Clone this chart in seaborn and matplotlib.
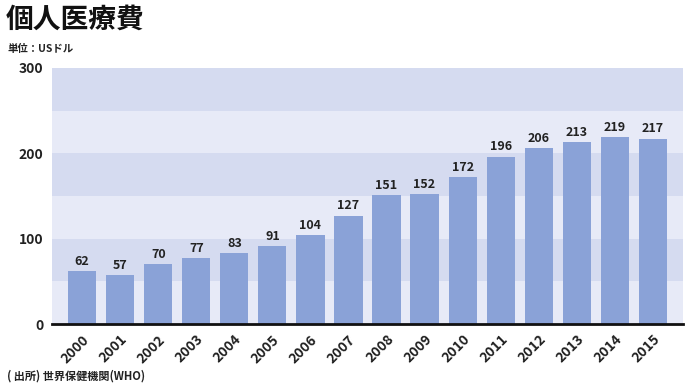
import matplotlib
matplotlib.use("Agg")
import matplotlib.pyplot as plt
import seaborn as sns
import pandas as pd

years = ["2000", "2001", "2002", "2003", "2004", "2005", "2006", "2007",
         "2008", "2009", "2010", "2011", "2012", "2013", "2014", "2015"]
values = [62, 57, 70, 77, 83, 91, 104, 127, 151, 152, 172, 196, 206, 213, 219, 217]
yticks = [0, 100, 200, 300]

sns.set_theme(style="white")
plt.rcParams['font.family'] = ['Noto Sans CJK JP', 'DejaVu Sans']

df = pd.DataFrame({"year": years, "value": values})

fig = plt.figure(figsize=(7, 3.9), dpi=100)
ax = fig.add_axes([0.074, 0.169, 0.902, 0.657])

# background bands
for i, lo in enumerate(range(0, 300, 50)):
    color = "#e7eaf7" if i % 2 == 0 else "#d5dbf0"
    ax.axhspan(lo, lo + 50, color=color, zorder=0, lw=0)

sns.barplot(data=df, x="year", y="value", color="#8aa2d7", saturation=1,
            width=0.74, ax=ax, zorder=2, edgecolor="none", linewidth=0)

for i, v in enumerate(values):
    ax.text(i, v + 4, str(v), ha="center", va="bottom", fontsize=9,
            fontweight="bold", color="#222222", zorder=3)

ax.set_ylim(0, 300)
ax.set_xlim(-0.8, len(years) - 0.2)
ax.set_yticks(yticks)
ax.set_yticklabels([str(t) for t in yticks], fontsize=10, fontweight="bold", color="#222222")
ax.set_xticks(range(len(years)))
ax.set_xticklabels(years, rotation=45, ha="right", rotation_mode="anchor",
                   fontsize=10, fontweight="bold", color="#222222")
ax.tick_params(axis="both", length=0, pad=6)
ax.set_xlabel("")
ax.set_ylabel("")
for s in ["top", "right", "left"]:
    ax.spines[s].set_visible(False)
ax.spines["bottom"].set_color("#111111")
ax.spines["bottom"].set_linewidth(2)
ax.spines["bottom"].set_zorder(4)

fig.text(0.008, 0.985, "個人医療費", fontsize=20, fontweight="bold", va="top", ha="left", color="#111111")
fig.text(0.01, 0.875, "単位：USドル", fontsize=7.5, fontweight="bold", va="center", ha="left", color="#222222")
fig.text(0.01, 0.035, "( 出所) 世界保健機関(WHO)", fontsize=8, fontweight="bold", va="center", ha="left", color="#222222")

fig.savefig("out.png", dpi=100, facecolor="white")
